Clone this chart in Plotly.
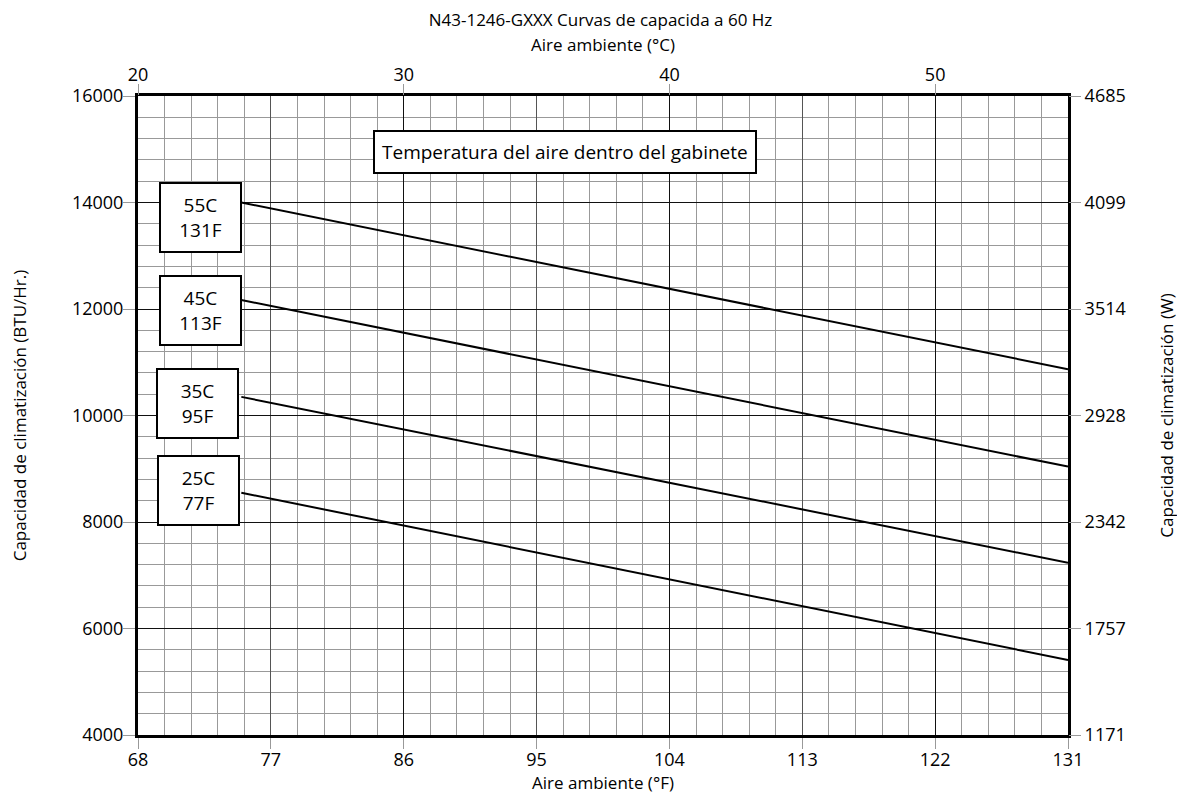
import plotly.graph_objects as go

# ---- data ----
ambient_f = [75, 131]
cap_55c = [14000, 10870]
cap_45c = [12170, 9040]
cap_35c = [10350, 7235]
cap_25c = [8550, 5410]
series_labels = ["55C<br>131F", "45C<br>113F", "35C<br>95F", "25C<br>77F"]
series_values = [cap_55c, cap_45c, cap_35c, cap_25c]

x_f_ticks = [68, 77, 86, 95, 104, 113, 122, 131]
x_c_ticks = [20, 30, 40, 50]
y_btu_ticks = [4000, 6000, 8000, 10000, 12000, 14000, 16000]
y_w_labels = ["1171", "1757", "2342", "2928", "3514", "4099", "4685"]

FONT = "Open Sans"

fig = go.Figure()
for vals in series_values:
    fig.add_trace(go.Scatter(x=ambient_f, y=vals, mode="lines",
                             line=dict(color="black", width=2),
                             showlegend=False, hoverinfo="skip"))

# invisible traces to activate secondary axes
fig.add_trace(go.Scatter(x=[20, 55], y=[4000, 16000], xaxis="x2", yaxis="y",
                         mode="markers", marker=dict(opacity=0),
                         showlegend=False, hoverinfo="skip"))
fig.add_trace(go.Scatter(x=[68, 131], y=[4000, 16000], xaxis="x", yaxis="y2",
                         mode="markers", marker=dict(opacity=0),
                         showlegend=False, hoverinfo="skip"))

tickfont = dict(family=FONT, size=18, color="black")
titlefont = dict(family=FONT, size=17, color="black")

fig.update_layout(
    width=1185, height=798,
    margin=dict(l=130, r=125, t=88, b=71),
    paper_bgcolor="white", plot_bgcolor="white",
    font=dict(family=FONT, color="black"),
    xaxis=dict(
        range=[68, 131], tickvals=x_f_ticks, ticks="outside", ticklen=11,
        tickcolor="#999", tickfont=tickfont, automargin=False,
        ticklabelstandoff=-5,
        showgrid=True, gridcolor="#555", gridwidth=1,
        minor=dict(dtick=1.8, tick0=68, showgrid=True, gridcolor="#999", gridwidth=1),
        showline=True, linecolor="black", linewidth=3, mirror=True,
        zeroline=False,
        title=dict(text="Aire ambiente (°F)", font=titlefont, standoff=2),
    ),
    xaxis2=dict(
        range=[20, 55], tickvals=x_c_ticks, overlaying="x", side="top",
        ticks="outside", ticklen=11, tickcolor="#999", tickfont=tickfont,
        automargin=False, ticklabelstandoff=-4,
        showgrid=True, gridcolor="#111", gridwidth=1, zeroline=False,
        title=dict(text="Aire ambiente (°C)", font=titlefont, standoff=5),
    ),
    yaxis=dict(
        range=[4000, 16000], tickvals=y_btu_ticks, tickformat="d",
        ticks="outside", ticklen=12, automargin=False, ticklabelstandoff=-4,
        tickcolor="#999", tickfont=tickfont,
        showgrid=True, gridcolor="#111", gridwidth=1,
        minor=dict(dtick=400, tick0=4000, showgrid=True, gridcolor="#999", gridwidth=1),
        showline=True, linecolor="black", linewidth=3, mirror=True,
        zeroline=False,
        title=dict(text="Capacidad de climatización (BTU/Hr.)", font=titlefont, standoff=47),
    ),
    yaxis2=dict(
        range=[4000, 16000], tickvals=y_btu_ticks, ticktext=y_w_labels,
        overlaying="y", side="right", ticks="outside", ticklen=12,
        automargin=False,
        tickcolor="#999", tickfont=tickfont, showgrid=False, zeroline=False,
        title=dict(text="Capacidad de climatización (W)", font=titlefont, standoff=36),
    ),
    title=dict(text="N43-1246-GXXX Curvas de capacida a 60 Hz",
               font=dict(family=FONT, size=17, color="black"),
               x=0.5, xanchor="center", y=1 - 12 / 798, yanchor="middle"),
)

box_pos = [(72.2, 13720), (72.25, 11975), (72.0, 10225), (72.1, 8600)]
for (bx, by), lab in zip(box_pos, series_labels):
    fig.add_annotation(x=bx, y=by, xref="x", yref="y", text=lab, showarrow=False,
                       font=dict(family=FONT, size=19, color="black"),
                       bgcolor="white", bordercolor="black", borderwidth=2,
                       borderpad=6, width=67, height=55, align="center")

fig.add_annotation(x=96.9, y=14948, xref="x", yref="y",
                   text="Temperatura del aire dentro del gabinete", showarrow=False,
                   font=dict(family=FONT, size=19, color="black"),
                   bgcolor="white", bordercolor="black", borderwidth=2,
                   borderpad=7)

fig.write_html("out.html")
